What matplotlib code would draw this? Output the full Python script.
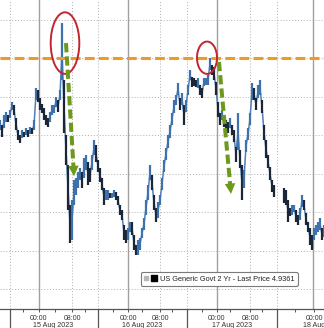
import numpy as np
import matplotlib
matplotlib.use("Agg")
import matplotlib.pyplot as plt
from matplotlib.patches import Ellipse
from matplotlib.lines import Line2D
from matplotlib.legend_handler import HandlerTuple

plt.rcParams['font.family'] = ['Liberation Sans', 'DejaVu Sans']

# US Generic Govt 2 Yr, intraday bars (high / low), 15-18 Aug 2023; None = no trading
highs = [4.9639, 4.9626, 4.9652, 4.9660, 4.9652, 4.9665, 4.9686, 4.9678, 4.9644, 4.9613,
         4.9600, 4.9613, 4.9608, 4.9618, 4.9613, 4.9621, 4.9618, 4.9639, 4.9722, 4.9717,
         4.9696, 4.9681, 4.9670, 4.9652, 4.9644, 4.9660, 4.9678, 4.9678, 4.9699, 4.9691,
         4.9717, 4.9891, 4.9743, 4.9600, 4.9522, 4.9418, 4.9431, 4.9483, 4.9488, 4.9504,
         4.9514, 4.9504, 4.9540, 4.9548, 4.9530, 4.9514, 4.9548, 4.9587, 4.9574, 4.9535,
         4.9514, 4.9488, 4.9462, 4.9457, 4.9457, 4.9449, 4.9449, 4.9457, 4.9452, 4.9441,
         4.9418, 4.9405, 4.9366, 4.9353, 4.9358, 4.9374, 4.9374, 4.9340, 4.9314, 4.9327,
         4.9332, 4.9358, 4.9384, 4.9431, 4.9470, 4.9522, 4.9496, 4.9444, 4.9410, 4.9426,
         4.9444, 4.9488, 4.9535, 4.9566, 4.9600, 4.9626, 4.9657, 4.9691, 4.9704, 4.9735,
         4.9696, 4.9709, 4.9678, 4.9691, 4.9730, 4.9769, 4.9751, 4.9748, 4.9743, 4.9748,
         4.9730, 4.9722, 4.9748, 4.9748, 4.9756, 4.9800, 4.9782, 4.9777, 4.9738, 4.9686,
         4.9657, 4.9665, 4.9647, 4.9639, 4.9634, 4.9644, 4.9626, 4.9613, 4.9569, 4.9657,
         4.9561, 4.9522, 4.9509, 4.9587, 4.9618, 4.9657, 4.9735, 4.9722, 4.9696, 4.9730,
         4.9743, 4.9691, 4.9626, 4.9587, 4.9548, 4.9517, 4.9483, 4.9470, None, None,
         None, None, 4.9462, 4.9457, 4.9431, 4.9410, 4.9418, 4.9418, 4.9405, 4.9392,
         4.9410, 4.9444, 4.9431, 4.9397, 4.9374, 4.9358, 4.9340, 4.9358, 4.9366, 4.9374,
         4.9384, 4.9358, 4.9366]
lows = [4.9613, 4.9595, 4.9618, 4.9634, 4.9634, 4.9644, 4.9665, 4.9652, 4.9613, 4.9587,
        4.9579, 4.9592, 4.9595, 4.9600, 4.9595, 4.9603, 4.9603, 4.9613, 4.9691, 4.9686,
        4.9665, 4.9657, 4.9639, 4.9626, 4.9621, 4.9634, 4.9652, 4.9657, 4.9673, 4.9660,
        4.9691, 4.9743, 4.9605, 4.9522, 4.9405, 4.9319, 4.9327, 4.9418, 4.9444, 4.9462,
        4.9483, 4.9462, 4.9488, 4.9509, 4.9470, 4.9478, 4.9509, 4.9548, 4.9530, 4.9504,
        4.9478, 4.9457, 4.9418, 4.9431, 4.9431, 4.9436, 4.9436, 4.9439, 4.9431, 4.9418,
        4.9392, 4.9379, 4.9327, 4.9319, 4.9327, 4.9348, 4.9340, 4.9301, 4.9288, 4.9288,
        4.9301, 4.9332, 4.9353, 4.9392, 4.9431, 4.9483, 4.9457, 4.9405, 4.9374, 4.9384,
        4.9418, 4.9457, 4.9504, 4.9535, 4.9566, 4.9592, 4.9626, 4.9657, 4.9678, 4.9704,
        4.9665, 4.9678, 4.9626, 4.9660, 4.9704, 4.9743, 4.9725, 4.9727, 4.9725, 4.9722,
        4.9704, 4.9696, 4.9727, 4.9730, 4.9730, 4.9769, 4.9756, 4.9743, 4.9704, 4.9647,
        4.9626, 4.9639, 4.9621, 4.9613, 4.9605, 4.9618, 4.9600, 4.9582, 4.9530, 4.9561,
        4.9514, 4.9431, 4.9462, 4.9556, 4.9587, 4.9626, 4.9691, 4.9691, 4.9665, 4.9696,
        4.9704, 4.9657, 4.9587, 4.9540, 4.9514, 4.9483, 4.9452, 4.9439, None, None,
        None, None, 4.9423, 4.9418, 4.9374, 4.9389, 4.9392, 4.9400, 4.9374, 4.9366,
        4.9379, 4.9413, 4.9405, 4.9366, 4.9348, 4.9314, 4.9301, 4.9327, 4.9340, 4.9348,
        4.9353, 4.9327, 4.9335]

time_labels = ["00:00", "08:00", "00:00", "08:00", "00:00", "08:00", "00:00"]
time_pos = [19.5, 36, 64, 80, 108.5, 125, 157]
date_labels = ["15 Aug 2023", "16 Aug 2023", "17 Aug 2023", "18 Aug 2023"]
date_pos = [26.5, 71, 116, 161.5]
day_sep_pos = [5, 49, 93.5, 138.5]
midnight_pos = [19.5, 64, 108.5, 156.5]
eight_pos = [36, 80, 125]
minor_pos = [11.5, 27.5, 42.5, 56.5, 71, 86, 101, 115, 131, 147.5]
grid_levels = [4.92, 4.93, 4.94, 4.95, 4.96, 4.97, 4.98, 4.99]
resistance = 4.98
series_name = "US Generic Govt 2 Yr - Last Price 4.9361"

hi = np.array([np.nan if v is None else v for v in highs])
lo = np.array([np.nan if v is None else v for v in lows])
x = np.arange(len(hi))
mid = (hi + lo) / 2
prev = np.concatenate([[mid[0]], mid[:-1]])
up = mid >= prev

fig = plt.figure(figsize=(3.24, 3.28), dpi=100)
ax = fig.add_axes([0, 19 / 328, 1, 309 / 328])
ax.set_xlim(0, 162)
ax.set_ylim(4.9148, 4.9951)

# grid
for g in grid_levels:
    ax.axhline(g, color='#b0b0b0', lw=0.7, ls=(0, (1, 2)), zorder=0)
for p in midnight_pos:
    ax.axvline(p, color='#a0a0a0', lw=1.0, zorder=0)
for p in day_sep_pos + eight_pos:
    ax.axvline(p, color='#b0b0b0', lw=0.7, ls=(0, (1, 2)), zorder=0)

# bars
blue = '#3d72ad'
dark = '#1b2638'
ax.plot(x, mid, color='#4f7fb5', lw=1.1, zorder=2)
cols = [blue if u else dark for u in up]
ax.vlines(x, lo, hi, colors=cols, lw=1.6, zorder=2.5)

# resistance line
ax.axhline(resistance, color='#f09a26', lw=2.2, ls=(0, (3.2, 1.4)), zorder=3)

# red circles
ax.add_patch(Ellipse((32.5, 4.9839), 14.3, 0.0160, fill=False,
                     edgecolor='#c3262f', lw=1.4, zorder=4))
ax.add_patch(Ellipse((103.5, 4.9801), 10, 0.0084, fill=False,
                     edgecolor='#c3262f', lw=1.4, zorder=4))

# green dashed arrows
green = '#6c9a1c'
for (x0, y0), (xb, yb), (xt, yt) in [((33, 4.9839), (36.75, 4.9517), (37, 4.9493)),
                                     ((109.5, 4.9790), (115.1, 4.9470), (115.5, 4.9447))]:
    ax.plot([x0, xb], [y0, yb], color=green, lw=2.9, ls=(0, (2.3, 1.0)),
            solid_capstyle='butt', dash_capstyle='butt', zorder=5)
    ax.annotate('', xy=(xt, yt), xytext=(xb, yb), zorder=5,
                arrowprops=dict(arrowstyle='-|>,head_length=0.75,head_width=0.38',
                                mutation_scale=10, color=green, lw=0,
                                shrinkA=0, shrinkB=0))

# axes styling
for s in ['top', 'left', 'right']:
    ax.spines[s].set_visible(False)
ax.spines['bottom'].set_color('#555555')
ax.spines['bottom'].set_linewidth(0.9)
ax.set_yticks(grid_levels)
ax.tick_params(axis='y', left=False, labelleft=False)
ax.set_xticks(time_pos)
ax.set_xticklabels(time_labels)
ax.set_xticks(minor_pos, minor=True)
ax.tick_params(axis='x', which='major', length=2.5, width=0.7, color='#555555',
               pad=1.5, labelsize=5, labelcolor='#333333')
ax.tick_params(axis='x', which='minor', length=2.0, width=0.7, color='#555555')
trans = ax.get_xaxis_transform()
for p in day_sep_pos:
    ax.plot([p, p], [0, -0.07], transform=trans, color='#555555', lw=0.9, clip_on=False)
for p, lab in zip(date_pos, date_labels):
    ax.text(p, -0.052, lab, transform=trans, ha='center', va='center',
            fontsize=5.1, color='#333333', clip_on=False)

# legend
h = (Line2D([], [], marker='s', color='#b8b8b8', ls='None', markersize=2.5),
     Line2D([], [], marker='s', color='black', ls='None', markersize=4.6))
leg = ax.legend([h], [series_name],
                handler_map={tuple: HandlerTuple(ndivide=None, pad=0.6)},
                loc='lower left', bbox_to_anchor=(0.435, 0.075), fontsize=5.3,
                frameon=True, fancybox=True, edgecolor='#7a7a7a', framealpha=1,
                handlelength=1.5, handletextpad=0.6, borderpad=0.45, borderaxespad=0)
leg.get_frame().set_linewidth(0.8)
for t in leg.get_texts():
    t.set_color('#222222')
leg.set_zorder(6)

fig.savefig('out.png', dpi=100, facecolor='white')
